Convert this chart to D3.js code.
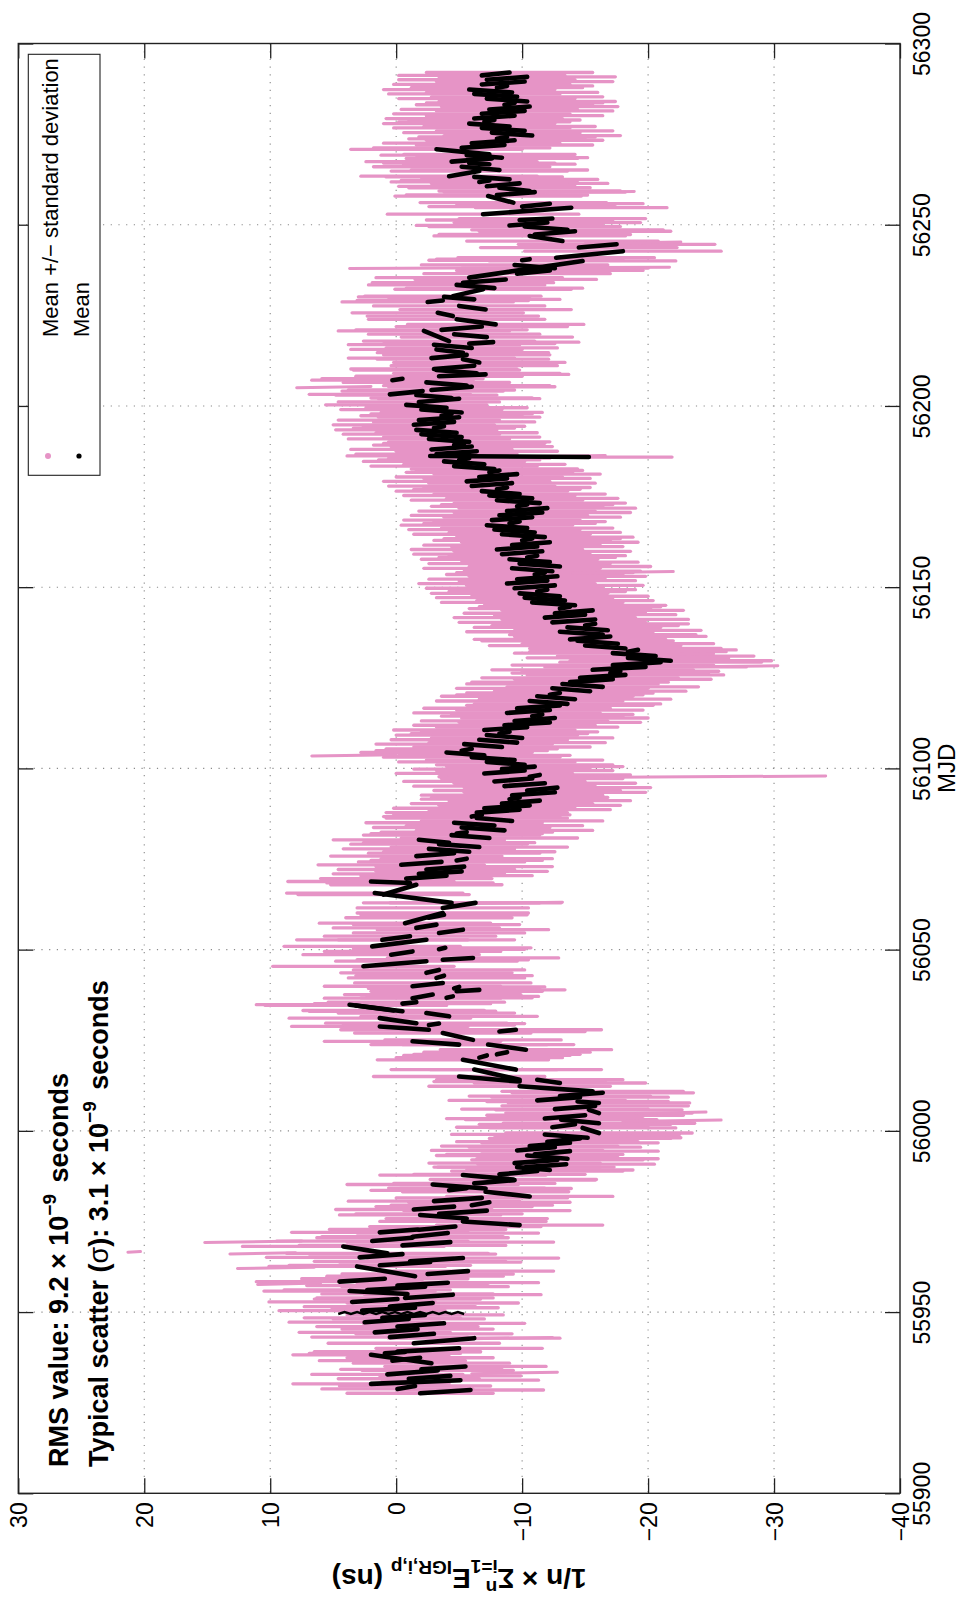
<!DOCTYPE html>
<html>
<head>
<meta charset="utf-8">
<script src="https://cdn.jsdelivr.net/npm/d3@7"></script>
<style>
  html, body { margin: 0; padding: 0; background: #fff; }
  svg { display: block; font-family: "Liberation Sans", Arial, Helvetica, sans-serif; }
</style>
</head>
<body>
<svg id="chart" width="964" height="1603"></svg>
<script>
// Axis ticks
const mjdTicks = [55900, 55950, 56000, 56050, 56100, 56150, 56200, 56250, 56300];
const nsTicks = [30, 20, 10, 0, -10, -20, -30, -40];

// Daily mean segments: [mjd start, mjd end, mean at start (ns), mean at end (ns), std dev (ns)]
const meanSegments = [
  [55927.6,55928.5,-1.9,-5.9,5.8],[55928.8,55929.6,-0.1,-1.5,6.0],[55930.2,55931.2,2.0,-5.1,6.2],
  [55931.6,55932.4,-1.0,-4.3,5.6],[55932.8,55933.9,0.7,-3.3,6.0],[55934.2,55935.0,-2.0,-5.5,6.4],
  [55935.9,55938.2,-2.8,2.0,6.2],[55936.6,55937.4,0.3,-1.9,5.8],[55938.6,55939.0,0.9,-0.7,6.0],
  [55939.1,55940.0,-0.1,-5.0,6.6],[55941.4,55942.8,-1.4,-6.2,6.8],[55943.1,55944.0,0.5,-3.0,6.2],
  [55944.4,55945.3,1.7,-1.7,6.0],[55946.0,55946.9,-0.1,-3.8,6.4],[55947.2,55948.1,2.5,-1.0,6.0],
  [55948.4,55949.2,1.1,-2.3,6.2],
  [55950.4,55951.2,2.7,-1.5,6.6],[55951.5,55952.5,0.5,-2.9,6.8],[55952.8,55953.6,3.5,-0.1,6.6],
  [55953.9,55954.8,-0.7,-4.5,7.0],[55955.0,55955.8,-0.9,3.7,6.8],[55956.1,55957.0,2.3,-2.3,6.6],
  [55957.3,55958.1,-0.1,-4.1,7.2],[55958.4,55959.2,4.5,0.9,6.6],[55959.9,55962.6,-1.5,3.1,7.0],
  [55960.5,55961.3,-2.5,-5.7,6.8],[55962.9,55963.8,1.3,-2.7,7.2],[55964.0,55964.9,-1.1,-5.3,7.6],
  [55965.1,55966.0,2.9,-0.5,7.4],[55966.2,55968.1,0.7,4.2,8.0],[55968.4,55969.3,-0.5,-4.3,8.2],
  [55969.6,55970.5,1.9,-1.3,7.6],[55970.8,55971.8,-1.3,-4.1,7.2],[55972.0,55972.8,1.3,-1.7,7.0],
  [55972.7,55973.6,-1.8,-4.7,6.8],
  [55974.0,55975.0,-9.8,-5.3,6.6],[55975.8,55976.8,-5.6,-1.9,6.4],[55977.1,55978.0,-3.4,-7.2,6.6],
  [55978.3,55979.1,-1.4,-4.6,6.2],[55979.5,55980.3,-6.0,-7.4,6.4],[55980.6,55981.5,-3.0,-6.8,6.8],
  [55981.9,55983.2,-10.6,-7.1,6.6],[55983.6,55984.2,-4.2,-5.6,6.2],[55984.1,55985.2,-7.1,-2.9,6.8],
  [55985.5,55986.4,-6.2,-9.4,6.4],[55986.6,55987.8,-9.3,-5.3,6.6],[55988.0,55988.9,-8.2,-11.2,6.8],
  [55989.2,55990.0,-12.2,-9.6,6.6],[55990.0,55990.8,-10.3,-13.5,7.0],[55991.1,55992.0,-9.4,-12.8,6.8],
  [55992.3,55993.2,-13.6,-10.4,7.2],[55993.5,55994.4,-11.0,-13.8,7.0],[55994.6,55995.5,-9.6,-12.6,6.8],
  [55995.8,55996.7,-10.6,-13.8,7.0],[55997.0,55997.9,-12.0,-14.6,7.2],[55998.1,55999.0,-15.2,-11.8,7.4],
  [55999.4,56000.8,-16.1,-14.8,7.4],[56001.0,56001.8,-12.4,-14.2,7.6],[56002.1,56003.1,-16.1,-13.1,7.6],
  [56003.4,56004.3,-11.8,-15.0,7.8],[56004.9,56005.8,-16.1,-15.3,7.4],[56006.0,56006.9,-12.6,-15.8,7.4],
  [56007.7,56008.1,-16.1,-14.4,7.2],[56008.4,56009.3,-11.2,-14.6,7.0],[56009.6,56010.5,-13.0,-16.4,7.2],
  [56010.9,56012.3,-15.6,-9.8,7.2],[56013.2,56014.1,-13.0,-11.2,6.8],[56013.6,56015.0,-9.8,-5.0,6.8],
  [56014.1,56016.9,-9.8,-6.2,6.6],[56016.9,56019.6,-9.5,-5.3,6.8],[56020.2,56020.8,-6.6,-7.2,6.6],
  [56021.1,56021.7,-8.0,-8.8,6.6],[56022.4,56023.8,-10.3,-7.3,6.8],[56023.8,56024.7,-5.0,-1.3,7.0],
  [56025.1,56027.0,-6.1,-3.7,7.0],[56027.4,56027.9,-8.2,-9.5,6.8],[56027.9,56028.8,-2.6,1.3,7.0],
  [56029.2,56029.6,-2.6,-3.4,6.8],[56029.7,56031.1,-1.6,1.3,7.2],[56031.6,56032.5,-4.2,-2.4,7.0],
  [56033.0,56034.8,-0.5,3.7,7.4],[56033.2,56034.6,0.2,3.2,7.2],[56035.1,56035.5,-0.5,-1.6,7.0],
  [56036.6,56037.6,-1.3,-2.9,7.0],[56036.7,56037.1,-4.0,-4.5,6.8],[56038.5,56038.9,-4.8,-6.6,6.8],
  [56039.3,56039.7,-4.6,-5.0,6.8],[56039.9,56040.8,-1.3,-3.7,7.0],[56042.2,56042.8,-3.2,-3.8,7.0],
  [56043.6,56044.4,-2.4,-3.4,6.8],[56045.4,56046.8,2.6,-2.4,7.2],[56047.2,56047.7,-3.7,-6.1,6.8],
  [56048.6,56049.5,0.4,-1.3,7.0],[56050.1,56050.5,-3.4,-3.9,6.8],[56050.9,56052.7,1.9,-2.4,7.0],
  [56052.7,56053.7,1.1,-1.1,6.8],[56054.6,56055.5,-3.4,-5.3,6.8],[56056.0,56056.9,-1.6,-3.2,6.6],
  [56057.3,56060.1,-0.7,-3.7,6.8],[56058.8,56059.6,-2.6,-3.8,6.6],[56061.5,56062.9,-3.7,-6.3,6.8],
  [56062.9,56065.6,-4.4,1.7,7.0],[56065.2,56067.9,1.0,-1.6,6.8],[56068.4,56068.8,-1.1,2.0,6.6],
  [56069.6,56070.4,-0.8,-4.0,6.8],[56070.9,56071.6,-1.8,-5.2,6.8],[56072.1,56072.9,-2.4,-5.4,7.0],
  [56073.4,56074.2,-0.4,-3.6,6.6],[56074.6,56075.1,-4.8,-5.6,6.8],[56075.8,56076.6,-1.6,-4.6,6.8],
  [56077.0,56077.8,-5.8,-2.6,6.8],[56078.3,56079.1,-6.6,-3.4,7.0],[56079.5,56080.3,-4.2,-1.8,6.8],
  [56080.8,56081.6,-7.4,-4.4,7.0],[56082.0,56082.4,-4.8,-5.6,6.8],[56082.9,56083.7,-8.6,-5.2,7.0],
  [56084.2,56085.0,-7.8,-4.6,7.0],[56085.5,56086.3,-9.2,-6.4,7.2],[56086.7,56087.2,-6.0,-6.8,7.0],
  [56087.8,56088.6,-6.4,-9.8,7.2],[56089.0,56089.8,-7.0,-10.6,7.2],[56090.3,56091.1,-8.4,-11.4,7.2],
  [56091.5,56092.0,-9.0,-9.8,7.0],[56092.6,56093.4,-9.2,-12.6,7.2],[56093.9,56094.7,-10.4,-12.8,7.4],
  [56095.1,56095.9,-8.6,-11.8,7.2],[56096.4,56097.2,-7.8,-10.8,7.2],[56097.7,56098.2,-10.6,-11.4,7.2],
  [56098.6,56099.4,-7.0,-10.2,7.0],[56099.8,56100.5,-8.4,-11.0,7.0],
  [56101.0,56101.8,-10.2,-7.2,7.0],[56102.3,56103.1,-9.4,-6.0,7.0],[56103.6,56104.4,-7.0,-4.0,6.8],
  [56104.9,56105.4,-5.2,-6.0,6.8],[56105.9,56106.7,-8.4,-5.4,7.0],[56107.1,56107.9,-9.6,-6.6,7.0],
  [56108.4,56109.2,-10.0,-7.2,7.2],[56109.6,56110.1,-8.2,-9.0,7.0],[56110.6,56111.4,-7.0,-10.4,7.2],
  [56111.9,56112.7,-8.6,-12.2,7.2],[56113.1,56113.9,-9.4,-12.6,7.4],[56114.4,56114.9,-10.8,-11.6,7.2],
  [56115.3,56116.1,-8.8,-12.2,7.4],[56116.6,56117.4,-9.6,-13.0,7.4],[56117.8,56118.6,-13.6,-10.6,7.4],
  [56119.1,56119.9,-14.2,-11.2,7.6],[56120.3,56120.8,-12.2,-13.0,7.4],[56121.3,56122.1,-15.4,-12.4,7.6],
  [56122.5,56123.3,-16.4,-13.2,7.6],[56123.8,56124.6,-13.8,-17.2,7.8],[56125.0,56125.8,-14.6,-18.2,7.8],
  [56126.3,56126.8,-17.0,-17.8,7.8],[56127.2,56128.0,-15.6,-19.8,8.0],[56128.5,56129.3,-17.2,-21.0,8.0],
  [56129.7,56130.5,-21.8,-18.4,8.0],[56131.0,56131.8,-20.6,-17.2,7.8],[56132.2,56132.7,-18.4,-19.2,7.8],
  [56133.1,56133.9,-18.2,-15.0,7.6],[56134.4,56135.2,-17.6,-14.4,7.6],
  [56135.6,56136.4,-13.8,-17.0,7.6],[56136.9,56137.7,-16.4,-13.0,7.4],[56138.1,56138.9,-16.8,-13.6,7.4],
  [56139.4,56139.9,-15.0,-15.8,7.4],[56140.3,56141.1,-12.4,-15.8,7.4],[56141.6,56142.4,-11.8,-15.0,7.2],
  [56142.8,56143.6,-12.6,-15.6,7.2],[56144.1,56144.6,-13.0,-13.8,7.2],[56145.0,56145.8,-14.2,-10.8,7.2],
  [56146.3,56147.1,-13.4,-10.2,7.0],[56147.5,56148.3,-13.0,-9.8,7.0],[56148.8,56149.3,-11.2,-12.0,7.0],
  [56149.7,56150.5,-9.4,-12.6,7.0],
  [56151.0,56151.8,-8.8,-12.0,7.0],[56152.2,56153.0,-9.6,-12.8,7.0],[56153.5,56154.0,-11.0,-11.8,7.0],
  [56154.4,56155.2,-12.4,-9.2,7.0],[56155.7,56156.5,-13.0,-9.8,7.2],[56156.9,56157.7,-12.2,-9.0,7.0],
  [56158.2,56158.7,-10.4,-11.2,7.0],[56159.1,56159.9,-8.4,-11.6,7.0],[56160.4,56161.2,-8.0,-11.2,6.8],
  [56161.6,56162.4,-9.2,-12.2,7.0],[56162.9,56163.4,-10.0,-10.8,7.0],[56163.8,56164.6,-11.8,-8.4,7.0],
  [56165.1,56165.9,-11.0,-7.8,6.8],[56166.3,56167.1,-10.4,-7.2,6.8],[56167.6,56168.1,-9.0,-9.8,6.8],
  [56168.5,56169.3,-7.6,-10.8,7.0],[56169.8,56170.6,-8.2,-11.6,7.0],[56171.0,56171.8,-8.8,-12.0,7.0],
  [56172.3,56172.8,-9.6,-10.4,6.8],[56173.2,56174.0,-11.4,-8.0,6.8],[56174.5,56175.3,-10.8,-7.4,6.8],
  [56175.7,56176.5,-9.8,-6.8,6.8],[56177.0,56177.5,-8.0,-8.8,6.6],[56177.9,56178.7,-6.0,-9.2,6.6],
  [56179.2,56180.0,-5.6,-8.8,6.6],
  [56180.4,56181.2,-6.6,-9.6,6.6],[56181.7,56182.2,-7.4,-8.2,6.6],[56182.6,56183.4,-7.8,-4.6,6.6],
  [56183.9,56184.7,-7.0,-3.8,6.4],[56185.1,56185.6,-5.0,-5.8,6.4],[56185.9,56186.2,-15.3,-2.7,6.6],
  [56186.7,56187.5,-3.2,-6.4,6.4],[56188.0,56188.8,-2.8,-6.0,6.4],[56189.2,56189.7,-4.6,-5.4,6.4],
  [56190.1,56190.9,-5.8,-2.6,6.4],[56191.4,56192.2,-5.2,-2.0,6.2],[56192.6,56193.4,-4.8,-1.6,6.4],
  [56193.9,56194.4,-3.0,-3.8,6.4],[56194.8,56195.6,-1.4,-4.6,6.4],[56196.1,56196.9,-1.8,-5.0,6.4],
  [56197.3,56197.8,-3.6,-4.4,6.4],[56198.2,56199.0,-5.2,-2.0,6.4],[56199.5,56200.3,-4.0,-0.8,6.4],
  [56201.1,56202.0,-1.8,-5.0,6.4],[56202.2,56203.0,-4.4,-1.6,6.4],[56203.2,56204.1,0.5,-2.1,6.4],
  [56204.4,56205.3,-2.8,-6.0,6.6],[56205.6,56206.5,-5.6,-2.4,6.6],[56207.1,56207.5,0.3,-0.5,6.4],
  [56208.2,56208.7,-3.4,-7.1,6.6],[56209.0,56209.9,-6.4,-3.2,6.6],[56210.2,56211.1,-3.0,-6.2,6.6],
  [56212.0,56212.9,-6.6,-5.3,6.8],[56213.2,56214.1,-2.8,-5.6,6.6],[56214.7,56215.6,-5.3,-3.2,6.8],
  [56216.0,56216.9,-6.0,-3.0,6.8],[56217.2,56217.6,-5.8,-7.7,6.8],[56217.9,56220.7,-4.2,-2.2,6.8],
  [56219.0,56219.8,-7.2,-4.6,6.8],[56221.0,56221.9,-3.6,-6.8,6.8],[56222.5,56223.9,-7.9,-4.8,7.0],
  [56224.8,56225.7,-4.5,-3.3,6.8],[56226.6,56227.6,-7.1,-5.0,6.8],[56228.7,56229.1,-2.5,-3.7,6.8],
  [56229.4,56230.1,-6.2,-3.8,6.8],[56230.3,56232.2,-4.5,-6.9,7.0],[56232.5,56233.4,-7.8,-4.8,7.0],
  [56234.0,56234.9,-5.3,-8.7,7.2],[56235.4,56240.0,-5.8,-14.8,7.4],[56236.5,56237.4,-9.6,-12.2,7.4],
  [56238.0,56238.9,-12.6,-9.4,7.4],[56240.2,56240.5,-10.0,-10.6,7.4],[56240.9,56242.7,-12.7,-18.0,7.8],
  [56243.7,56244.6,-14.5,-17.5,7.8],[56245.5,56246.9,-13.2,-10.6,7.6],[56247.3,56248.2,-11.0,-14.2,7.6],
  [56248.6,56249.5,-13.6,-10.2,7.6],[56249.8,56250.6,-9.0,-12.0,7.4],[56251.3,56251.7,-9.8,-12.4,7.4],
  [56252.9,56254.7,-6.9,-13.9,7.6],[56255.0,56255.8,-10.0,-12.2,7.4],[56256.1,56257.9,-9.3,-7.3,7.4],
  [56258.2,56259.0,-8.0,-11.0,7.2],[56259.3,56260.2,-10.6,-8.2,7.2],[56260.6,56261.4,-7.2,-9.8,7.0],
  [56261.8,56262.2,-6.6,-7.4,7.0],[56262.5,56263.2,-9.0,-6.2,7.0],[56263.4,56264.8,-4.2,-6.6,7.0],
  [56265.1,56266.0,-8.2,-5.2,7.0],[56266.7,56267.0,-7.4,-5.8,6.8],[56267.4,56268.3,-4.4,-7.6,6.8],
  [56268.5,56269.2,-8.4,-5.6,6.8],[56269.4,56270.8,-7.4,-3.2,6.8],
  [56271.2,56272.0,-5.2,-8.6,7.0],[56272.5,56273.3,-6.0,-9.4,7.0],[56273.7,56274.2,-8.0,-8.8,7.0],
  [56274.6,56275.4,-10.8,-7.6,7.0],[56275.9,56276.7,-10.2,-6.8,7.0],[56277.1,56277.9,-9.0,-5.8,6.8],
  [56278.4,56278.9,-7.0,-7.8,6.8],[56279.3,56280.1,-6.2,-9.4,7.0],[56280.6,56281.4,-6.8,-10.2,7.0],
  [56281.8,56282.6,-7.4,-10.6,7.0],[56283.1,56283.6,-8.6,-9.4,7.0],[56284.0,56284.8,-10.4,-7.2,7.0],
  [56285.3,56286.1,-9.6,-6.2,6.8],[56286.5,56287.3,-9.2,-5.8,6.8],[56287.8,56288.3,-8.0,-8.8,6.8],
  [56288.7,56289.5,-6.8,-10.2,7.0],[56290.0,56290.8,-7.2,-10.4,7.0],[56291.2,56292.0,-6.8,-9.0,6.6]
];

// Isolated wide excursions of mean +/- std: [mjd start, mjd end, ns at start, ns at end]
const spreadOutliers = [
  [55966.5,55966.7,21.3,20.3],[55969.2,55969.6,15.2,7.5],[55966.0,55966.4,13.2,8.0],
  [55962.0,55962.4,12.6,6.5],[55957.6,55958.0,11.0,6.0],[55933.0,55933.4,-6.0,-12.8],
  [55942.6,55943.0,-5.0,-12.4],[55998.6,55999.0,-17.0,-22.5],[56002.6,56003.0,-18.0,-25.8],
  [56004.8,56005.2,-19.0,-24.6],[56062.7,56063.1,-6.0,-13.2],[56097.5,56097.9,-14.0,-34.1],
  [56103.4,56103.8,6.7,0.0],[56127.9,56128.3,-20.0,-30.3],[56131.2,56131.6,-19.0,-25.2],
  [56153.9,56154.3,-14.0,-22.0],[56205.0,56205.4,7.9,2.0],[56237.9,56238.3,3.7,-21.7],
  [56258.8,56259.2,-8.0,-18.9],[56244.8,56245.2,-15.0,-22.6],[56186.0,56186.3,-10.0,-16.6]
];

// Rapidly oscillating mean values around MJD 55950: [mjd, ns]
const burst55950 = [
  [55949.5,4.6],[55950.0,4.1],[55949.5,3.6],[55950.0,3.1],[55949.5,2.6],[55950.0,2.1],
  [55949.5,1.6],[55950.0,1.1],[55949.5,0.6],[55950.0,0.1],[55949.5,-0.4],[55950.0,-0.9],
  [55949.5,-1.4],[55950.0,-1.9],[55949.5,-2.4],[55950.0,-2.9],[55949.5,-3.4],[55950.0,-3.9],
  [55949.5,-4.4],[55950.0,-4.9],[55949.5,-5.4]
];

const pink = "#e694c6";
const ink = "#222";
const svg = d3.select("#chart");
const plot = { left: 18.3, right: 900, top: 43.5, bottom: 1493.3 };

const x = d3.scaleLinear().domain([30, -40]).range([plot.left, plot.right]);
const y = d3.scaleLinear().domain([55900, 56300]).range([plot.bottom, plot.top]);

const fmt = v => v < 0 ? "\u2212" + (-v) : String(v);

svg.append("defs").append("clipPath").attr("id", "plot-clip")
  .append("rect").attr("x", plot.left).attr("y", plot.top)
  .attr("width", plot.right - plot.left).attr("height", plot.bottom - plot.top);

// dotted grid
const grid = svg.append("g").attr("stroke", "#8a8a8a").attr("stroke-width", 1.1)
  .attr("stroke-dasharray", "1.2 6.5");
nsTicks.filter(v => v < 30 && v > -40).forEach(v => {
  grid.append("line").attr("x1", x(v)).attr("x2", x(v)).attr("y1", plot.top).attr("y2", plot.bottom);
});
mjdTicks.filter(v => v > 55900 && v < 56300).forEach(v => {
  grid.append("line").attr("y1", y(v)).attr("y2", y(v)).attr("x1", plot.left).attr("x2", plot.right);
});

const data = svg.append("g").attr("clip-path", "url(#plot-clip)");

// mean +/- standard deviation at the start and end epoch of each segment
const spreadRows = meanSegments.flatMap(([t0, t1, v0, v1, s]) => [[t0, v0 + s, v0 - s], [t1, v1 + s, v1 - s]]);
data.append("g").attr("stroke", pink).attr("stroke-width", 3.3).attr("stroke-linecap", "round")
  .selectAll("line").data(spreadRows).join("line")
  .attr("x1", d => x(d[1])).attr("x2", d => x(d[2]))
  .attr("y1", d => y(d[0])).attr("y2", d => y(d[0]));

data.append("g").attr("stroke", pink).attr("stroke-width", 3.0).attr("stroke-linecap", "round")
  .selectAll("line").data(spreadOutliers).join("line")
  .attr("x1", d => x(d[2])).attr("y1", d => y(d[0]))
  .attr("x2", d => x(d[3])).attr("y2", d => y(d[1]));

// mean
data.append("g").attr("stroke", "#000").attr("stroke-width", 4.6).attr("stroke-linecap", "round")
  .selectAll("line").data(meanSegments).join("line")
  .attr("x1", d => x(d[2])).attr("y1", d => y(d[0]))
  .attr("x2", d => x(d[3])).attr("y2", d => y(d[1]));

data.append("path").datum(burst55950)
  .attr("fill", "none").attr("stroke", "#000").attr("stroke-width", 2.6)
  .attr("d", d3.line().x(d => x(d[1])).y(d => y(d[0])));

// axes: ticks on all four sides, pointing inwards
function styleAxis(g) {
  g.attr("font-family", null).attr("font-size", null).attr("color", ink);
  g.select(".domain").remove();
  g.selectAll(".tick line").attr("stroke-width", 1.3);
}

const bottomAxis = svg.append("g").attr("transform", `translate(0,${plot.bottom})`)
  .call(d3.axisBottom(x).tickValues(nsTicks).tickSizeInner(-15).tickSizeOuter(0).tickFormat(fmt))
  .call(styleAxis);
bottomAxis.selectAll(".tick text")
  .attr("y", null).attr("dy", "0.35em")
  .attr("transform", "translate(0,9) rotate(-90)")
  .attr("text-anchor", "end").attr("font-size", 23).attr("fill", "#000");

svg.append("g").attr("transform", `translate(0,${plot.top})`)
  .call(d3.axisTop(x).tickValues(nsTicks).tickSizeInner(-15).tickSizeOuter(0).tickFormat(() => ""))
  .call(styleAxis);

const rightAxis = svg.append("g").attr("transform", `translate(${plot.right},0)`)
  .call(d3.axisRight(y).tickValues(mjdTicks).tickSizeInner(-15).tickSizeOuter(0).tickFormat(d3.format("d")))
  .call(styleAxis);
rightAxis.selectAll(".tick text")
  .attr("x", null).attr("dy", null)
  .attr("transform", "translate(30,0) rotate(-90)")
  .attr("text-anchor", "middle").attr("font-size", 23).attr("fill", "#000");

svg.append("g").attr("transform", `translate(${plot.left},0)`)
  .call(d3.axisLeft(y).tickValues(mjdTicks).tickSizeInner(-15).tickSizeOuter(0).tickFormat(() => ""))
  .call(styleAxis);

svg.append("rect").attr("x", plot.left).attr("y", plot.top)
  .attr("width", plot.right - plot.left).attr("height", plot.bottom - plot.top)
  .attr("fill", "none").attr("stroke", ink).attr("stroke-width", 1.4);

// axis titles
svg.append("text").attr("transform", `translate(955,${(plot.top + plot.bottom) / 2}) rotate(-90)`)
  .attr("text-anchor", "middle").attr("font-size", 24).text("MJD");

const yTitle = svg.append("text")
  .attr("transform", `translate(${(plot.left + plot.right) / 2},1569) rotate(180)`)
  .attr("text-anchor", "middle").attr("font-size", 28).attr("font-weight", "bold");
yTitle.append("tspan").text("1/n \u00d7 \u03a3");
yTitle.append("tspan").attr("font-size", 19).attr("dy", -12).text("n");
yTitle.append("tspan").attr("font-size", 19).attr("dx", -12).attr("dy", 21).text("i=1");
yTitle.append("tspan").attr("dy", -9).text("E");
yTitle.append("tspan").attr("font-size", 19).attr("dy", 8).text("IGR,i,p");
yTitle.append("tspan").attr("dy", -8).text(" (ns)");

// statistics annotation
function statLine(xPos, parts) {
  const t = svg.append("text").attr("transform", `translate(${xPos},1467) rotate(-90)`)
    .attr("font-size", 27).attr("font-weight", "bold");
  parts.forEach(p => {
    const s = t.append("tspan").text(p.text);
    if (p.sup) s.attr("font-size", 19).attr("dy", -12);
    if (p.after) s.attr("dy", 12).attr("dx", 4);
    if (p.plain) s.attr("font-weight", "normal");
  });
}
statLine(68, [
  { text: "RMS value: 9.2 \u00d7 10" }, { text: "\u22129", sup: true }, { text: " seconds", after: true }
]);
statLine(108, [
  { text: "Typical scatter (" }, { text: "\u03c3", plain: true }, { text: "): 3.1 \u00d7 10" },
  { text: "\u22129", sup: true }, { text: " seconds", after: true }
]);

// legend
const legend = svg.append("g");
legend.append("rect").attr("x", 28.3).attr("y", 54.3).attr("width", 71.7).attr("height", 421)
  .attr("fill", "#fff").attr("stroke", ink).attr("stroke-width", 1.1);
const entries = [
  { label: "Mean +/\u2212 standard deviation", color: pink, r: 3, base: 58 },
  { label: "Mean", color: "#000", r: 2.6, base: 89 }
];
entries.forEach(e => {
  legend.append("circle").attr("cx", e.base - 10).attr("cy", 456).attr("r", e.r).attr("fill", e.color);
  legend.append("text").attr("transform", `translate(${e.base},337) rotate(-90)`)
    .attr("font-size", 22).text(e.label);
});
</script>
</body>
</html>
